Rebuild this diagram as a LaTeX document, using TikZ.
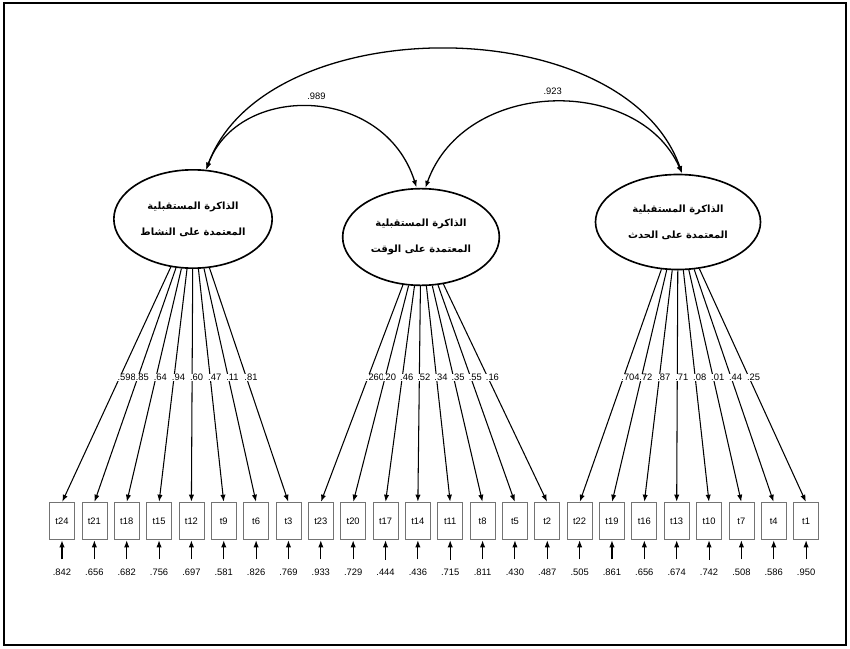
\documentclass[tikz,border=0pt]{standalone}
\usepackage{fontspec}
\setmainfont{Liberation Sans}
\newfontfamily\arabicfont[Script=Arabic]{DejaVu Sans}
\TeXXeTstate=1
\usetikzlibrary{arrows.meta,calc,shapes.geometric}

\begin{document}
\begin{tikzpicture}[->,>={Latex[length=6pt,width=4.5pt]},shorten >=0.5pt,x=0.03cm,y=-0.03cm,
                    line width=0.9pt,node distance=0.9705cm]
\tikzstyle{factor}=[ellipse,draw=black,line width=1.4pt,align=center,inner sep=0pt,
                    font=\arabicfont\bfseries\fontsize{8.5}{9}\selectfont]
\tikzstyle{item}=[rectangle,draw=black!55,line width=0.6pt,minimum width=0.75cm,minimum height=1.1cm,inner sep=0pt]
\tikzstyle{err}=[draw=none,inner sep=1pt,node distance=1.55cm]
\tikzstyle{load}=[fill=white,inner sep=0.4pt,anchor=west]
\tikzset{font=\fontsize{8}{9}\selectfont}

        \useasboundingbox (0,0) rectangle (850,648);
        \draw[-,line width=2.4pt] (4,3) rectangle (846,645);

        % latent factors
        \node[factor,minimum width=4.75cm,minimum height=2.95cm] (A) at (193,219)
            {\beginR الذاكرة المستقبلية\endR\\[13pt]\beginR المعتمدة على النشاط\endR};
        \node[factor,minimum width=4.7cm,minimum height=2.9cm]   (B) at (421,237)
            {\beginR الذاكرة المستقبلية\endR\\[13pt]\beginR المعتمدة على الوقت\endR};
        \node[factor,minimum width=4.95cm,minimum height=2.85cm] (C) at (678,222)
            {\beginR الذاكرة المستقبلية\endR\\[13pt]\beginR المعتمدة على الحدث\endR};

        % observed items
        \node[item] (t24) at (62,521)   {t24};
        \node[item] (t21) [right of=t24] {t21};
        \node[item] (t18) [right of=t21] {t18};
        \node[item] (t15) [right of=t18] {t15};
        \node[item] (t12) [right of=t15] {t12};
        \node[item] (t9)  [right of=t12] {t9};
        \node[item] (t6)  [right of=t9]  {t6};
        \node[item] (t3)  [right of=t6]  {t3};
        \node[item] (t23) [right of=t3]  {t23};
        \node[item] (t20) [right of=t23] {t20};
        \node[item] (t17) [right of=t20] {t17};
        \node[item] (t14) [right of=t17] {t14};
        \node[item] (t11) [right of=t14] {t11};
        \node[item] (t8)  [right of=t11] {t8};
        \node[item] (t5)  [right of=t8]  {t5};
        \node[item] (t2)  [right of=t5]  {t2};
        \node[item] (t22) [right of=t2]  {t22};
        \node[item] (t19) [right of=t22] {t19};
        \node[item] (t16) [right of=t19] {t16};
        \node[item] (t13) [right of=t16] {t13};
        \node[item] (t10) [right of=t13] {t10};
        \node[item] (t7)  [right of=t10] {t7};
        \node[item] (t4)  [right of=t7]  {t4};
        \node[item] (t1)  [right of=t4]  {t1};

        % error terms
        \node[err] (e24) [below of=t24] {.842};
        \node[err] (e21) [below of=t21] {.656};
        \node[err] (e18) [below of=t18] {.682};
        \node[err] (e15) [below of=t15] {.756};
        \node[err] (e12) [below of=t12] {.697};
        \node[err] (e9)  [below of=t9]  {.581};
        \node[err] (e6)  [below of=t6]  {.826};
        \node[err] (e3)  [below of=t3]  {.769};
        \node[err] (e23) [below of=t23] {.933};
        \node[err] (e20) [below of=t20] {.729};
        \node[err] (e17) [below of=t17] {.444};
        \node[err] (e14) [below of=t14] {.436};
        \node[err] (e11) [below of=t11] {.715};
        \node[err] (e8)  [below of=t8]  {.811};
        \node[err] (e5)  [below of=t5]  {.430};
        \node[err] (e2)  [below of=t2]  {.487};
        \node[err] (e22) [below of=t22] {.505};
        \node[err] (e19) [below of=t19] {.861};
        \node[err] (e16) [below of=t16] {.656};
        \node[err] (e13) [below of=t13] {.674};
        \node[err] (e10) [below of=t10] {.742};
        \node[err] (e7)  [below of=t7]  {.508};
        \node[err] (e4)  [below of=t4]  {.586};
        \node[err] (e1)  [below of=t1]  {.950};

        \path[shorten <=7pt]
        (e24) edge (t24)  (e21) edge (t21)  (e18) edge (t18)  (e15) edge (t15)
        (e12) edge (t12)  (e9)  edge (t9)   (e6)  edge (t6)   (e3)  edge (t3)
        (e23) edge (t23)  (e20) edge (t20)  (e17) edge (t17)  (e14) edge (t14)
        (e11) edge (t11)  (e8)  edge (t8)   (e5)  edge (t5)   (e2)  edge (t2)
        (e22) edge (t22)  (e19) edge (t19)  (e16) edge (t16)  (e13) edge (t13)
        (e10) edge (t10)  (e7)  edge (t7)   (e4)  edge (t4)   (e1)  edge (t1)
        ; %end path

        % loadings
        \path
        (A) edge (t24.north)  (A) edge (t21.north)  (A) edge (t18.north)  (A) edge (t15.north)
        (A) edge (t12.north)  (A) edge (t9.north)   (A) edge (t6.north)   (A) edge (t3.north)
        (B) edge (t23.north)  (B) edge (t20.north)  (B) edge (t17.north)  (B) edge (t14.north)
        (B) edge (t11.north)  (B) edge (t8.north)   (B) edge (t5.north)   (B) edge (t2.north)
        (C) edge (t22.north)  (C) edge (t19.north)  (C) edge (t16.north)  (C) edge (t13.north)
        (C) edge (t10.north)  (C) edge (t7.north)   (C) edge (t4.north)   (C) edge (t1.north)
        ; %end path

        \node[load] at ($(A)!0.56!(t24.north)+(-3,0)$) {.598};
        \node[load] at ($(A)!0.56!(t21.north)+(-3,0)$) {.85};
        \node[load] at ($(A)!0.56!(t18.north)+(-3,0)$) {.64};
        \node[load] at ($(A)!0.56!(t15.north)+(-3,0)$) {.94};
        \node[load] at ($(A)!0.56!(t12.north)+(-3,0)$) {.60};
        \node[load] at ($(A)!0.56!(t9.north)+(-3,0)$)  {.47};
        \node[load] at ($(A)!0.56!(t6.north)+(-3,0)$)  {.11};
        \node[load] at ($(A)!0.56!(t3.north)+(-3,0)$)  {.81};

        \node[load] at ($(B)!0.53!(t23.north)+(-3,0)$) {.260};
        \node[load] at ($(B)!0.53!(t20.north)+(-3,0)$) {.20};
        \node[load] at ($(B)!0.53!(t17.north)+(-3,0)$) {.46};
        \node[load] at ($(B)!0.53!(t14.north)+(-3,0)$) {.52};
        \node[load] at ($(B)!0.53!(t11.north)+(-3,0)$) {.34};
        \node[load] at ($(B)!0.53!(t8.north)+(-3,0)$)  {.35};
        \node[load] at ($(B)!0.53!(t5.north)+(-3,0)$)  {.55};
        \node[load] at ($(B)!0.53!(t2.north)+(-3,0)$)  {.16};

        \node[load] at ($(C)!0.555!(t22.north)+(-3,0)$) {.704};
        \node[load] at ($(C)!0.555!(t19.north)+(-3,0)$) {.72};
        \node[load] at ($(C)!0.555!(t16.north)+(-3,0)$) {.87};
        \node[load] at ($(C)!0.555!(t13.north)+(-3,0)$) {.71};
        \node[load] at ($(C)!0.555!(t10.north)+(-3,0)$) {.08};
        \node[load] at ($(C)!0.555!(t7.north)+(-3,0)$)  {.01};
        \node[load] at ($(C)!0.555!(t4.north)+(-3,0)$)  {.44};
        \node[load] at ($(C)!0.555!(t1.north)+(-3,0)$)  {.25};

        % correlations
        \draw[<->,line width=1.1pt] (A.75) .. controls +(59,-161) and +(-58,-165) .. (C.85);
        \draw[<->,line width=1.1pt] (A.75) .. controls +(32,-87) and +(-33,-104) .. node[pos=0.52,above=3pt] {.989} (B.95);
        \draw[<->,line width=1.1pt] (B.85) .. controls +(40,-111) and +(-43,-98) .. node[pos=0.5,above=3pt] {.923} (C.85);

\end{tikzpicture}
\end{document}
